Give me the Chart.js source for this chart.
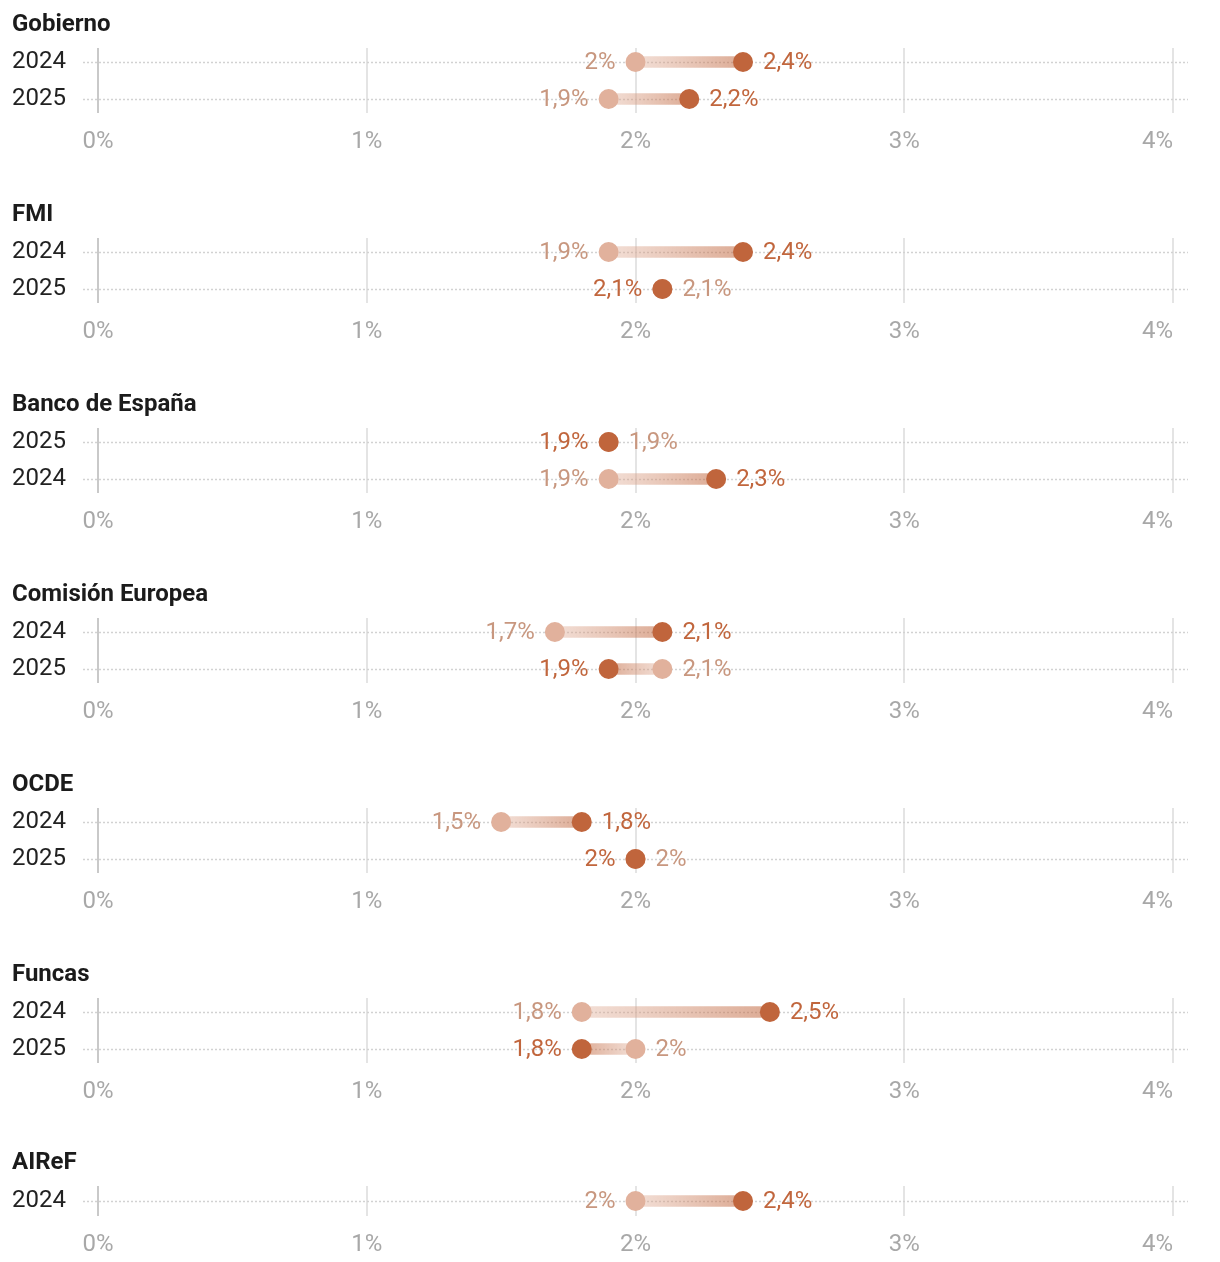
<!DOCTYPE html>
<html>
<head>
<meta charset="utf-8">
<script src="https://cdn.jsdelivr.net/npm/chart.js@4/dist/chart.umd.min.js"></script>
<style>
  html, body { margin: 0; padding: 0; background: #fff; }
  #wrap { width: 1220px; }
  canvas { display: block; }
</style>
</head>
<body>
<div id="wrap"></div>
<script>
// forecasts (GDP growth, %): previous vs latest, per institution
var panels = ['Gobierno', 'FMI', 'Banco de España', 'Comisión Europea', 'OCDE', 'Funcas', 'AIReF'];
var rowYears = [
  ['2024', '2025'],
  ['2024', '2025'],
  ['2025', '2024'],
  ['2024', '2025'],
  ['2024', '2025'],
  ['2024', '2025'],
  ['2024']
];
var previous = [[2, 1.9], [1.9, 2.1], [1.9, 1.9], [1.7, 2.1], [1.5, 2], [1.8, 2], [2]];
var latest   = [[2.4, 2.2], [2.4, 2.1], [1.9, 2.3], [2.1, 1.9], [1.8, 2], [2.5, 1.8], [2.4]];
var xTicks = [0, 1, 2, 3, 4];

var DARK = '#c0653c';
var LIGHT = '#e1b19c';
var DARK_TXT = '#c1663d';
var LIGHT_TXT = '#c8977f';

Chart.defaults.font.family = 'Roboto';

function fmt(v) {
  return String(v).replace('.', ',') + '%';
}

// dotted row guides, a bit wider than the plot
var rowLines = {
  id: 'rowLines',
  beforeDatasetsDraw: function(chart) {
    var ctx = chart.ctx, y = chart.scales.y, a = chart.chartArea;
    ctx.save();
    ctx.strokeStyle = '#d2d2d2';
    ctx.lineWidth = 1.5;
    ctx.setLineDash([2, 2]);
    y.ticks.forEach(function(t) {
      var py = Math.round(y.getPixelForValue(t.value)) + 0.5;
      ctx.beginPath();
      ctx.moveTo(a.left - 15, py);
      ctx.lineTo(a.right + 15, py);
      ctx.stroke();
    });
    ctx.restore();
  }
};

// value labels next to the dots + x axis labels
var valueLabels = {
  id: 'valueLabels',
  afterDraw: function(chart) {
    var ctx = chart.ctx, xs = chart.scales.x, ys = chart.scales.y, a = chart.chartArea;
    var p = chart.options.panelIndex;
    ctx.save();
    ctx.font = '24px Roboto';
    ctx.textBaseline = 'middle';
    previous[p].forEach(function(old, i) {
      var nw = latest[p][i];
      var py = ys.getPixelForValue(i) + 1;
      var po = xs.getPixelForValue(old), pn = xs.getPixelForValue(nw);
      var newLeft = nw <= old;
      ctx.fillStyle = newLeft ? DARK_TXT : LIGHT_TXT;
      ctx.textAlign = 'right';
      ctx.fillText(fmt(newLeft ? nw : old), Math.min(po, pn) - 20, py);
      ctx.fillStyle = newLeft ? LIGHT_TXT : DARK_TXT;
      ctx.textAlign = 'left';
      ctx.fillText(fmt(newLeft ? old : nw), Math.max(po, pn) + 20, py);
    });
    ctx.fillStyle = '#a8a8a8';
    xs.ticks.forEach(function(t, i) {
      var px = xs.getPixelForValue(t.value);
      ctx.textAlign = i === xs.ticks.length - 1 ? 'right' : 'center';
      ctx.fillText(t.value + '%', px, a.bottom + 28.5);
    });
    ctx.restore();
  }
};

var wrap = document.getElementById('wrap');

panels.forEach(function(name, p) {
  var single = rowYears[p].length === 1;
  var canvas = document.createElement('canvas');
  canvas.width = 1220;
  canvas.height = single ? 122 : 190;
  wrap.appendChild(canvas);

  var barData = previous[p].map(function(v, i) { return { y: i, x: [v, latest[p][i]] }; });
  var oldDots = previous[p].map(function(v, i) { return { x: v, y: i }; });
  var newDots = latest[p].map(function(v, i) { return { x: v, y: i }; });

  new Chart(canvas, {
    type: 'bar',
    data: {
      datasets: [
        {
          type: 'bar',
          indexAxis: 'y',
          data: barData,
          barThickness: 11,
          order: 3,
          backgroundColor: function(c) {
            var chart = c.chart;
            if (!chart.chartArea) return LIGHT;
            var xs = chart.scales.x;
            var x0 = xs.getPixelForValue(previous[p][c.dataIndex]);
            var x1 = xs.getPixelForValue(latest[p][c.dataIndex]);
            if (x0 === x1) return 'rgba(0,0,0,0)';
            var g = chart.ctx.createLinearGradient(x0, 0, x1, 0);
            g.addColorStop(0, 'rgba(225,177,156,0.42)');
            g.addColorStop(1, 'rgba(192,101,60,0.55)');
            return g;
          }
        },
        {
          type: 'scatter',
          data: oldDots,
          pointRadius: 10,
          pointHoverRadius: 10,
          pointBorderWidth: 0,
          backgroundColor: LIGHT,
          order: 2
        },
        {
          type: 'scatter',
          data: newDots,
          pointRadius: 10,
          pointHoverRadius: 10,
          pointBorderWidth: 0,
          backgroundColor: DARK,
          order: 1
        }
      ]
    },
    options: {
      panelIndex: p,
      responsive: false,
      animation: false,
      events: [],
      layout: { padding: { left: 12, right: 47, top: 0, bottom: single ? 46 : 77 } },
      plugins: {
        legend: { display: false },
        tooltip: { enabled: false },
        title: {
          display: true,
          text: name,
          align: 'start',
          color: '#1b1b1b',
          font: { size: 24, weight: 'bold' },
          padding: single ? { top: 9, bottom: 8.2 } : { top: 11, bottom: 8.2 }
        }
      },
      scales: {
        x: {
          type: 'linear',
          min: 0,
          max: 4,
          offset: false,
          afterBuildTicks: function(s) { s.ticks = xTicks.map(function(v) { return { value: v }; }); },
          ticks: { display: false },
          border: { display: false },
          grid: {
            offset: false,
            drawTicks: false,
            lineWidth: 2,
            color: function(c) { return c.tick && c.tick.value === 0 ? '#c9c9c9' : '#e4e4e4'; }
          }
        },
        y: {
          type: 'linear',
          reverse: true,
          offset: false,
          min: single ? -0.5 : -0.378,
          max: single ? 0.5 : 1.378,
          afterBuildTicks: function(s) { s.ticks = rowYears[p].map(function(_, i) { return { value: i }; }); },
          afterFit: function(s) { s.width = 86; },
          ticks: {
            crossAlign: 'far',
            padding: 0,
            color: '#222',
            font: { size: 24 },
            callback: function(v) { return rowYears[p][v]; }
          },
          border: { display: false },
          grid: { display: false, offset: false }
        }
      }
    },
    plugins: [rowLines, valueLabels]
  });
});
</script>
</body>
</html>
